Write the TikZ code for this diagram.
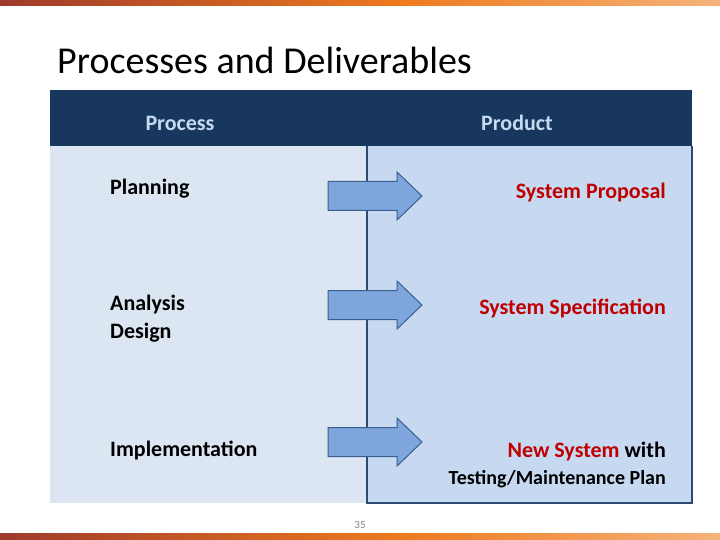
\documentclass[tikz,border=0pt]{standalone}
\usepackage{fontspec}
\setmainfont{Carlito}
\definecolor{navy}{HTML}{17375E}
\definecolor{hdrtxt}{HTML}{C6D9F1}
\definecolor{leftbg}{HTML}{DCE6F2}
\definecolor{rightbg}{HTML}{C6D9F1}
\definecolor{bord}{HTML}{2C4A73}
\definecolor{arrfill}{HTML}{7EA6DC}
\definecolor{arrline}{HTML}{3A5E8E}
\definecolor{redtxt}{HTML}{C00000}
\definecolor{barA}{HTML}{9E3A2B}
\definecolor{barB}{HTML}{EE7A1E}
\definecolor{barC}{HTML}{F5B37A}
\tikzset{
 bigarrow/.style={draw=arrline, line width=1pt, fill=arrfill, line join=miter},
 lefttxt/.style={anchor=west, font=\fontsize{22}{28}\selectfont\bfseries, text=black, align=left, inner sep=0pt},
 righttxt/.style={anchor=east, font=\fontsize{22}{26}\selectfont\bfseries, text=redtxt, inner sep=0pt},
 hdr/.style={font=\fontsize{22}{26}\selectfont\bfseries, text=hdrtxt, inner sep=0pt}
}
\newcommand{\bigarr}[2]{\draw[bigarrow] (328,#2-14.5) -- (397,#2-14.5) -- (397,#2-24) -- (422,#2) -- (397,#2+24) -- (397,#2+14.5) -- (328,#2+14.5) -- cycle;}
\begin{document}
\begin{tikzpicture}[x=1pt,y=-1pt]
\useasboundingbox (0,0) rectangle (720,540);
\fill[white] (0,0) rectangle (720,540);
\shade[left color=barA, right color=barB] (0,0) rectangle (400,6);
\shade[left color=barB, right color=barC] (400,0) rectangle (720,6);
\shade[left color=barA, right color=barB] (0,533) rectangle (400,540);
\shade[left color=barB, right color=barC] (400,533) rectangle (720,540);
\node[anchor=west, inner sep=0pt, font=\fontsize{38}{44}\selectfont] (title) at (57,60) {Processes and Deliverables};
\fill[leftbg] (50,146) rectangle (367,503);
\fill[rightbg] (367,146) rectangle (692,503);
\draw[bord, line width=1.5pt] (367,146) -- (367,503) -- (692,503) -- (692,146);
\fill[navy] (50,90) rectangle (692,146);
\node[hdr] (hproc) at (180,123) {Process};
\node[hdr] (hprod) at (517,123) {Product};
\node[lefttxt] (plan) at (110,189) {Planning};
\node[lefttxt] (anal) at (110,319) {Analysis\\Design};
\node[lefttxt] (impl) at (110,450) {Implementation};
\bigarr{a1}{196}
\bigarr{a2}{305}
\bigarr{a3}{442}
\node[righttxt] (p1) at (666,193) {System Proposal};
\node[righttxt] (p2) at (666,308) {System Specification};
\node[righttxt] (p3) at (666,452) {New System \textcolor{black}{with}};
\node[anchor=east, inner sep=0pt, font=\fontsize{20}{24}\selectfont\bfseries] (p3b) at (666,479) {Testing/Maintenance Plan};
\node[font=\fontsize{11}{12}\selectfont, text=gray, inner sep=0pt] (pg) at (360,525) {35};
\end{tikzpicture}
\end{document}
